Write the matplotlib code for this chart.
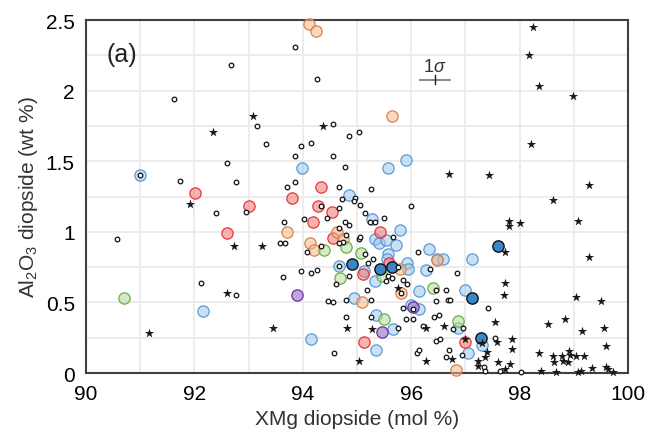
import numpy as np
import matplotlib
matplotlib.use('Agg')
import matplotlib.pyplot as plt

plt.rcParams['font.family'] = ['Liberation Sans', 'DejaVu Sans']
plt.rcParams['mathtext.fontset'] = 'custom'
plt.rcParams['mathtext.rm'] = 'Liberation Sans'
plt.rcParams['mathtext.it'] = 'Liberation Sans:italic'

# open circles (XMg, Al2O3)
open_x = [93.86, 92.68, 94.26, 91.62, 93.16, 94.55, 94.86, 95.04, 93.33, 93.97, 94.16, 93.86, 94.55,
          92.60, 94.77, 91.73, 92.77, 93.71, 93.86, 94.67, 90.99,
          92.39, 92.96, 93.66, 94.02, 94.45, 94.34, 94.67, 94.72, 94.77, 94.86, 94.67, 94.79, 94.75,
          94.66, 95.04, 90.58, 93.58, 93.68, 94.07, 94.34, 93.63, 93.97, 94.16, 94.26, 94.86, 94.62,
          92.12, 92.77, 94.47, 94.55, 94.79, 94.79, 94.58, 94.66,
          95.25, 94.96, 94.95, 95.06, 95.99, 95.15, 95.24, 95.34, 95.50, 95.06, 95.66, 96.13, 95.15,
          95.30, 95.20, 96.35, 95.76, 95.58, 95.64, 95.54, 95.84, 95.92, 95.18, 95.82, 96.45, 96.64,
          96.85, 95.25, 95.84, 96.04, 96.68, 96.72, 96.45, 97.42, 95.25, 95.90, 96.04, 96.43, 96.52,
          96.22, 95.75, 96.78, 96.95, 96.45, 96.54, 97.55, 96.10, 96.15, 96.70, 96.64, 96.94, 97.34,
          97.37, 97.63, 98.03]
open_y = [2.31, 2.18, 2.08, 1.94, 1.75, 1.76, 1.68, 1.71, 1.62, 1.61, 1.63, 1.54, 1.54,
          1.49, 1.46, 1.36, 1.35, 1.32, 1.35, 1.32, 1.40,
          1.13, 1.14, 1.07, 1.09, 1.10, 1.185, 1.17, 1.23, 1.07, 1.05, 1.03, 0.98, 0.93,
          0.92, 0.95, 0.95, 0.92, 0.92, 0.86, 0.90, 0.68, 0.72, 0.71, 0.73, 0.69, 0.63,
          0.64, 0.55, 0.51, 0.50, 0.52, 0.40, 0.14, 0.76,
          1.30, 1.24, 1.22, 1.19, 1.18, 1.13, 1.07, 1.07, 1.10, 0.96, 0.96, 0.86, 0.84,
          0.81, 0.78, 0.74, 0.75, 0.69, 0.67, 0.65, 0.66, 0.63, 0.59, 0.57, 0.59, 0.59,
          0.71, 0.52, 0.46, 0.45, 0.52, 0.52, 0.51, 0.46, 0.40, 0.38, 0.38, 0.40, 0.41,
          0.33, 0.32, 0.31, 0.32, 0.23, 0.24, 0.25, 0.14, 0.16, 0.165, 0.115, 0.13, 0.045,
          0.016, 0.012, 0.005]

# stars
star_x = [93.08, 92.35, 94.37, 98.24, 98.18, 98.36, 98.99, 98.22, 96.70, 97.43, 99.29, 91.92, 92.74,
          93.24, 92.61, 91.16, 93.45, 94.82, 95.04, 98.62, 97.80, 97.80, 98.01, 99.08, 99.28, 97.74,
          97.74, 97.71, 99.05, 99.50, 95.75, 95.28, 96.27, 96.61, 97.55, 98.52, 98.84, 99.16, 99.56,
          96.99, 97.30, 97.58, 97.86, 97.86, 99.59, 96.28, 96.76, 97.39, 97.36, 97.23, 97.23, 97.61,
          97.83, 97.74, 98.36, 98.61, 98.63, 98.78, 98.81, 98.90, 98.92, 98.93, 99.05, 99.19, 98.39,
          98.68, 99.08, 99.13, 99.34, 99.59, 99.64, 99.72]
star_y = [1.82, 1.71, 1.75, 2.45, 2.25, 2.03, 1.96, 1.62, 1.41, 1.40, 1.33, 1.20, 0.90,
          0.90, 0.57, 0.28, 0.32, 0.32, 0.087, 1.225, 1.08, 1.04, 1.06, 1.08, 0.82, 0.86,
          0.64, 0.55, 0.54, 0.51, 0.60, 0.31, 0.32, 0.335, 0.36, 0.35, 0.38, 0.30, 0.32,
          0.24, 0.21, 0.22, 0.24, 0.17, 0.19, 0.087, 0.10, 0.15, 0.115, 0.087, 0.047, 0.076,
          0.062, 0.03, 0.144, 0.123, 0.08, 0.118, 0.087, 0.076, 0.154, 0.13, 0.118, 0.118, 0.012,
          0.01, 0.005, 0.016, 0.033, 0.045, 0.03, 0.01]

blue_x = [90.99, 93.99, 95.90, 95.58, 94.85, 95.28, 95.79, 95.34, 95.41, 95.54, 95.72, 95.58, 95.56,
          96.33, 96.48, 96.58, 97.13, 95.93, 95.95, 96.28, 94.66, 95.13, 95.33, 96.14, 96.99, 94.94,
          96.00, 96.15, 95.36, 95.66, 95.35, 97.05, 97.30, 96.87, 92.16, 94.15]
blue_y = [1.40, 1.45, 1.51, 1.45, 1.26, 1.09, 1.01, 0.95, 0.92, 0.94, 0.91, 0.84, 0.81,
          0.88, 0.81, 0.81, 0.81, 0.78, 0.74, 0.73, 0.76, 0.72, 0.65, 0.58, 0.59, 0.53,
          0.48, 0.45, 0.41, 0.31, 0.16, 0.14, 0.20, 0.32, 0.44, 0.24]

red_x = [94.34, 92.01, 93.00, 92.61, 93.81, 94.29, 94.54, 94.18, 94.56, 95.42, 95.60, 95.12, 95.13, 96.99]
red_y = [1.32, 1.275, 1.18, 0.99, 1.24, 1.185, 1.14, 1.07, 0.956, 1.00, 0.78, 0.70, 0.22, 0.22]

orange_x = [94.12, 94.24, 95.64, 93.71, 94.13, 94.21, 94.64, 94.74, 95.79, 96.48, 95.81, 95.09, 96.83]
orange_y = [2.47, 2.42, 1.82, 1.00, 0.92, 0.87, 1.00, 0.95, 0.74, 0.80, 0.57, 0.50, 0.02]

green_x = [94.40, 94.80, 95.07, 94.68, 90.70, 95.46, 96.41, 95.50, 96.87]
green_y = [0.87, 0.89, 0.85, 0.67, 0.53, 0.69, 0.60, 0.38, 0.37]

purple_x = [93.89, 96.04, 95.46]
purple_y = [0.555, 0.465, 0.29]

dark_x = [94.90, 95.42, 95.64, 97.61, 97.13, 97.28]
dark_y = [0.77, 0.74, 0.75, 0.90, 0.53, 0.25]

fig = plt.figure(figsize=(6.45, 4.35), dpi=100)
ax = fig.add_axes([0.1333, 0.1402, 0.8403, 0.8115])

big = 66
groups = [
    (blue_x, blue_y, (0.62, 0.78, 0.93, 0.55), '#5b9bd5'),
    (red_x, red_y, (0.96, 0.45, 0.45, 0.55), '#e8383b'),
    (orange_x, orange_y, (0.96, 0.72, 0.56, 0.55), '#d9824a'),
    (green_x, green_y, (0.70, 0.86, 0.60, 0.55), '#70ad47'),
    (purple_x, purple_y, (0.62, 0.52, 0.80, 0.7), '#7030a0'),
]
for gx, gy, fc, ec in groups:
    ax.scatter(gx, gy, s=big, facecolor=fc, edgecolor=ec, linewidth=0.9, zorder=3, clip_on=False)

ax.scatter(dark_x, dark_y, s=big, facecolor='#3a86c8', edgecolor='#111111', linewidth=1.0, zorder=4,
           clip_on=False)
ax.scatter(open_x, open_y, s=11, facecolor='white', edgecolor='#111111', linewidth=0.9, zorder=5,
           clip_on=False)
ax.scatter(star_x, star_y, s=48, marker='*', color='#1a1a1a', linewidth=0, zorder=5, clip_on=False)

# 1 sigma error bar
ax.plot([96.16, 96.72], [2.077, 2.077], color='#808080', linewidth=1.3, zorder=2)
ax.plot([96.44, 96.44], [2.045, 2.11], color='#222222', linewidth=1.0, zorder=2)
ax.text(96.44, 2.11, r'$\mathit{1\sigma}$', ha='center', va='bottom', fontsize=13, color='#333333')

ax.text(90.66, 2.26, '(a)', ha='center', va='center', fontsize=18, color='#222222')

ax.set_xlim(90, 100)
ax.set_ylim(0, 2.5)
ax.set_xticks(np.arange(90, 101, 2))
ax.set_yticks([0, 0.5, 1, 1.5, 2, 2.5])
ax.set_yticklabels(['0', '0.5', '1', '1.5', '2', '2.5'])
ax.set_xticks(np.arange(90, 101, 1), minor=True)
ax.set_yticks(np.arange(0, 2.51, 0.25), minor=True)
ax.grid(which='both', color='#ebebeb', linewidth=1.3, zorder=0)
ax.set_axisbelow(True)
ax.tick_params(which='both', length=0, labelsize=15, pad=8)
for sp in ax.spines.values():
    sp.set_color('#404040')
    sp.set_linewidth(1.5)

ax.set_xlabel('XMg diopside (mol %)', fontsize=15, color='#333333')
ax.set_ylabel('Al$_2$O$_3$ diopside (wt %)', fontsize=15, color='#333333')

fig.savefig('out.png', dpi=100)
